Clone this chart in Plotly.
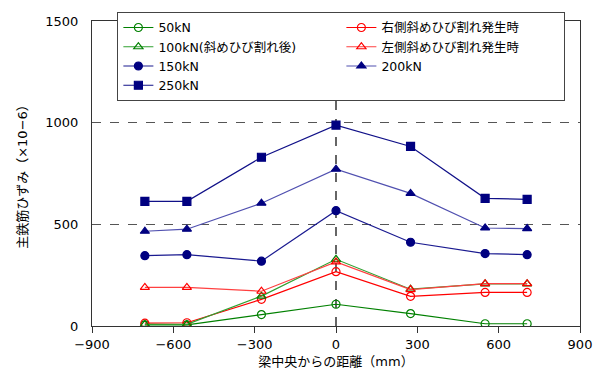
import plotly.graph_objects as go

# Distance from beam centre (mm)
dist = [-705, -550, -275, 0, 275, 550, 705]

# Main rebar strain (x10^-6) per load stage
s50 = [6, 6, 56, 107, 61, 11, 11]
s100 = [8, 8, 147, 328, 181, 207, 207]
s150 = [346, 351, 319, 567, 412, 356, 351]
s200 = [466, 476, 604, 771, 652, 482, 479]
s250 = [613, 613, 830, 988, 883, 628, 623]
s_right = [14, 16, 131, 267, 146, 165, 165]
s_left = [190, 190, 171, 315, 179, 208, 208]

FONT = "DejaVu Sans, Noto Sans CJK JP"

series = [
    # name, y, line colour, marker colour, symbol, rank
    ("50kN", s50, "#008000", "#008000", "circle-open", 1),
    ("右側斜めひび割れ発生時", s_right, "#ff0000", "#ff0000", "circle-open", 2),
    ("100kN(斜めひび割れ後)", s100, "#30a030", "#008000", "triangle-up-open", 3),
    ("左側斜めひび割れ発生時", s_left, "#ff4040", "#ff0000", "triangle-up-open", 4),
    ("150kN", s150, "#1a1a90", "#000080", "circle", 5),
    ("200kN", s200, "#5050b0", "#000080", "triangle-up", 6),
    ("250kN", s250, "#101088", "#000080", "square", 7),
]

fig = go.Figure()

# vertical dashed centre line
fig.add_shape(type="line", x0=0, x1=0, y0=0, y1=1500, xref="x", yref="y",
              line=dict(color="black", width=1.2, dash="dash"), layer="below")

for name, y, lc, mc, sym, rank in series:
    fig.add_trace(go.Scatter(
        x=dist, y=y, name=name, mode="lines+markers", legendrank=rank,
        line=dict(color=lc, width=1.2),
        marker=dict(symbol=sym, size=8, color=mc,
                    line=dict(color=mc, width=1.2)),
    ))

fig.update_layout(
    width=603, height=385,
    margin=dict(l=92, r=23, t=14, b=59),
    paper_bgcolor="white", plot_bgcolor="white",
    font=dict(family=FONT, size=13, color="black"),
    showlegend=True,
    legend=dict(
        orientation="h", x=0.052, y=1.03, xanchor="left", yanchor="top",
        entrywidth=178, entrywidthmode="pixels", traceorder="normal",
        bgcolor="white", bordercolor="#444", borderwidth=1,
        font=dict(family=FONT, size=12.5), itemwidth=30,
    ),
    xaxis=dict(
        range=[-900, 900], tickvals=[-900, -600, -300, 0, 300, 600, 900],
        ticktext=["−900", "−600", "−300", "0", "300", "600", "900"],
        showgrid=False, zeroline=False,
        showline=True, linecolor="#333", linewidth=1.2, mirror=True,
        ticks="outside", ticklen=6, tickcolor="#333",
        title=dict(text="梁中央からの距離（mm）", standoff=6,
                   font=dict(family=FONT, size=13)),
    ),
    yaxis=dict(
        range=[0, 1500], tickvals=[0, 500, 1000, 1500],
        showgrid=True, gridcolor="#555", griddash="dash", gridwidth=1,
        zeroline=False,
        showline=True, linecolor="#333", linewidth=1.2, mirror=True,
        ticks="", ticklabelstandoff=10,
        title=dict(text="主鉄筋ひずみ（×10−6）", standoff=14,
                   font=dict(family=FONT, size=13)),
    ),
)

fig.write_html("out.html")
